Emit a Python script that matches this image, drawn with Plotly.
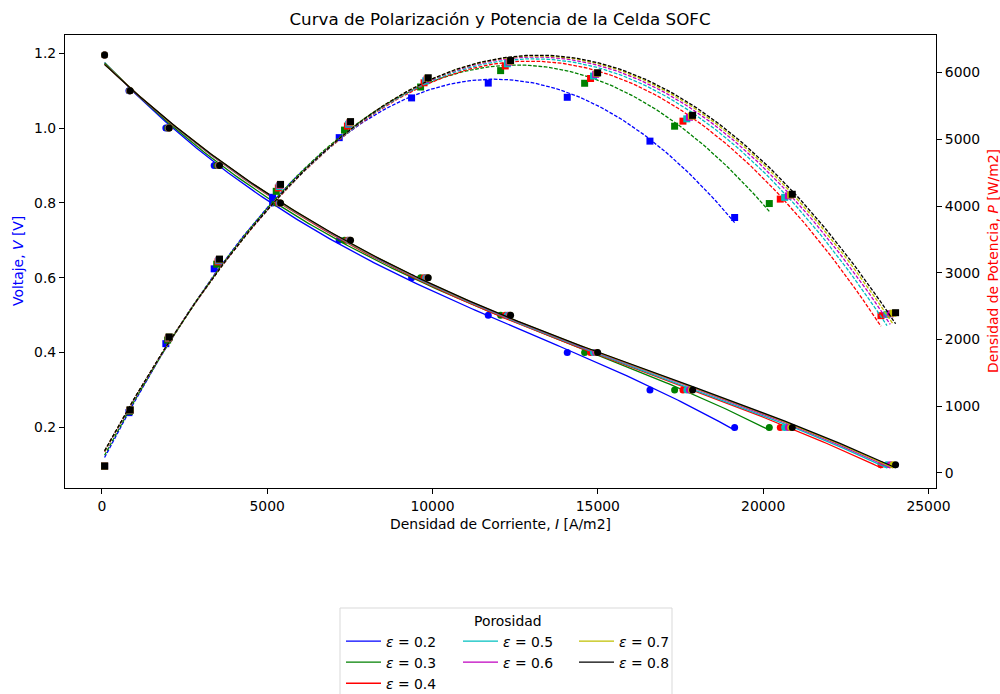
import numpy as np
import plotly.graph_objects as go

# Porosity values and their colours (matplotlib-style short colours)
porosity = [0.2, 0.3, 0.4, 0.5, 0.6, 0.7, 0.8]
colors = ["#0000ff", "#008000", "#ff0000", "#00bfbf", "#bf00bf", "#bfbf00", "#000000"]

# Cell voltage levels [V]
voltage_levels = [1.195, 1.1, 1.0, 0.9, 0.8, 0.7, 0.6, 0.5, 0.4, 0.3, 0.2, 0.1]

# Current density [A/m2] reached at each voltage level, per porosity
current_e02 = [84, 820, 1936, 3398, 5163, 7179, 9368, 11686, 14075, 16576, 19137]
current_e03 = [84, 838, 1990, 3475, 5275, 7340, 9640, 12060, 14601, 17322, 20185]
current_e04 = [84, 848, 2012, 3515, 5338, 7427, 9745, 12200, 14780, 17574, 20517, 23562]
current_e05 = [84, 852, 2022, 3533, 5364, 7465, 9795, 12265, 14870, 17690, 20650, 23743]
current_e06 = [84, 854, 2029, 3546, 5384, 7493, 9835, 12315, 14935, 17770, 20760, 23843]
current_e07 = [84, 856, 2034, 3555, 5397, 7510, 9857, 12345, 14975, 17830, 20830, 23924]
current_e08 = [84, 857, 2037, 3560, 5405, 7522, 9871, 12362, 14994, 17865, 20880, 24004]

currents = [current_e02, current_e03, current_e04, current_e05,
            current_e06, current_e07, current_e08]

# Axis ticks
x_ticks = [0, 5000, 10000, 15000, 20000, 25000]
v_ticks = [0.2, 0.4, 0.6, 0.8, 1.0, 1.2]
p_ticks = [0, 1000, 2000, 3000, 4000, 5000, 6000]

FONT = "DejaVu Sans"
legend_of = ["legend", "legend", "legend", "legend2", "legend2", "legend3", "legend3"]

# Plot area in pixels
L, R, T, B = 65, 64, 35, 206
W, H = 1000, 694
PW, PH = W - L - R, H - T - B


def px_to_paper_x(px):
    return (px - L) / PW


def px_to_paper_y(py):
    return (H - B - py) / PH


fig = go.Figure()

# Polarization curves (left axis): measured points + cubic fit
for eps, col, cur, lg in zip(porosity, colors, currents, legend_of):
    I = np.array(cur, dtype=float)
    V = np.array(voltage_levels[:len(cur)], dtype=float)
    fig.add_trace(go.Scatter(x=I, y=V, mode="markers",
                             marker=dict(symbol="circle", size=7, color=col, line=dict(width=0)),
                             showlegend=False, hoverinfo="skip", yaxis="y"))
    coef = np.polyfit(I, V, 3)
    I_fit = np.linspace(I.min(), I.max(), 200)
    fig.add_trace(go.Scatter(x=I_fit, y=np.polyval(coef, I_fit), mode="lines",
                             line=dict(color=col, width=1.3),
                             name=f"<i>ε</i> = {eps}", legend=lg, yaxis="y"))

# Power density curves (right axis): P = V * I points + quadratic fit
for eps, col, cur in zip(porosity, colors, currents):
    I = np.array(cur, dtype=float)
    V = np.array(voltage_levels[:len(cur)], dtype=float)
    P = V * I
    fig.add_trace(go.Scatter(x=I, y=P, mode="markers",
                             marker=dict(symbol="square", size=7, color=col, line=dict(width=0)),
                             showlegend=False, hoverinfo="skip", yaxis="y2"))
    coef = np.polyfit(I, P, 2)
    I_fit = np.linspace(I.min(), I.max(), 200)
    fig.add_trace(go.Scatter(x=I_fit, y=np.polyval(coef, I_fit), mode="lines",
                             line=dict(color=col, width=1.3, dash="3.7px,1.6px"),
                             showlegend=False, hoverinfo="skip", yaxis="y2"))

axis_common = dict(showline=True, linecolor="black", linewidth=1.1, ticks="outside",
                   ticklen=5, tickwidth=1.1, tickcolor="black", showgrid=False,
                   zeroline=False, automargin=False,
                   tickfont=dict(family=FONT, size=13.9, color="black"))

legend_common = dict(bgcolor="rgba(0,0,0,0)", borderwidth=0, xanchor="left", yanchor="top",
                     xref="container", yref="container",
                     font=dict(family=FONT, size=13.9, color="black"), tracegroupgap=0,
                     itemwidth=35, orientation="v")

LEG_TOP = 1 - 625.6 / H
title_font = dict(family=FONT, size=13.9)

fig.update_layout(
    width=W, height=H,
    margin=dict(l=L, r=R, t=T, b=B, autoexpand=False),
    paper_bgcolor="white", plot_bgcolor="white",
    font=dict(family=FONT, color="black"),
    title=dict(text="Curva de Polarización y Potencia de la Celda SOFC",
               x=0.5, xanchor="center", y=1 - 19 / H, yanchor="middle",
               font=dict(family=FONT, size=16.7, color="black")),
    xaxis=dict(range=[-1113, 25226], tickvals=x_ticks, tickformat="d", mirror=True,
               title=dict(text="Densidad de Corriente, <i>I</i> [A/m2]",
                          font=dict(family=FONT, size=13.9, color="black"), standoff=6),
               **axis_common),
    yaxis=dict(range=[0.0382, 1.2487], tickvals=v_ticks, tickformat=".1f",
               **axis_common),
    yaxis2=dict(range=[-228, 6564], tickvals=p_ticks, tickformat="d",
                overlaying="y", side="right", **axis_common),
    legend=dict(x=0.341, y=LEG_TOP, **legend_common),
    legend2=dict(x=0.458, y=LEG_TOP, **legend_common),
    legend3=dict(x=0.574, y=LEG_TOP, **legend_common),
    shapes=[dict(type="rect", xref="paper", yref="paper",
                 x0=px_to_paper_x(340), x1=px_to_paper_x(672),
                 y0=px_to_paper_y(608), y1=px_to_paper_y(710),
                 line=dict(color="#d9d9d9", width=1), fillcolor="rgba(255,255,255,0.8)",
                 layer="below")],
    annotations=[
        dict(text="Porosidad", xref="paper", yref="paper",
             x=px_to_paper_x(508), y=px_to_paper_y(620.5),
             xanchor="center", yanchor="middle", showarrow=False,
             font=dict(family=FONT, size=13.9, color="black")),
        # left axis title (voltage)
        dict(text="Voltaje, <i>V</i> [V]", xref="paper", yref="paper",
             x=px_to_paper_x(18), y=px_to_paper_y(261), textangle=-90,
             xanchor="center", yanchor="middle", showarrow=False,
             font=dict(color="blue", **title_font)),
        # right axis title (power density)
        dict(text="Densidad de Potencia, <i>P</i> [W/m2]", xref="paper", yref="paper",
             x=px_to_paper_x(993), y=px_to_paper_y(261), textangle=-90,
             xanchor="center", yanchor="middle", showarrow=False,
             font=dict(color="red", **title_font)),
    ],
)

fig.write_html("out.html")
